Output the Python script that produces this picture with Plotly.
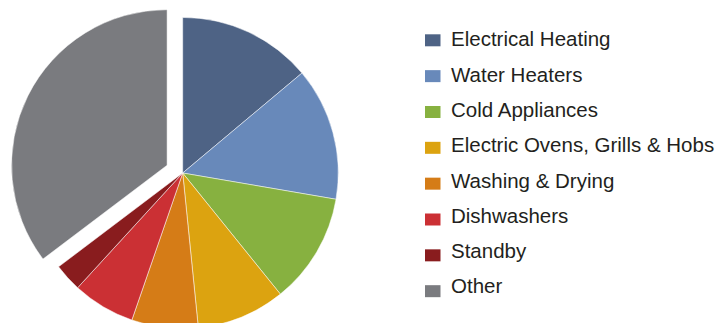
import plotly.graph_objects as go

# Household electricity use by end use (share of total, %)
categories = [
    "Electrical Heating",
    "Water Heaters",
    "Cold Appliances",
    "Electric Ovens, Grills & Hobs",
    "Washing & Drying",
    "Dishwashers",
    "Standby",
    "Other",
]
shares = [13.9, 13.8, 11.5, 9.2, 6.9, 6.5, 2.9, 35.3]
colors = ["#4E6385", "#6889BA", "#87B140", "#DCA310",
          "#D57C17", "#CB3034", "#891C1E", "#7A7B7F"]
pulled = ["Other"]

W, H = 716, 346
PIE_CX = 182.7          # pie centre, px from left

fig = go.Figure(
    go.Pie(
        labels=categories,
        values=shares,
        marker=dict(colors=colors, line=dict(color="white", width=0.5)),
        pull=[0.112 if c in pulled else 0 for c in categories],
        sort=False,
        direction="clockwise",
        rotation=0,
        textinfo="none",
        showlegend=False,
        domain=dict(x=[0, 2 * PIE_CX / W], y=[0, 1]),
    )
)

# Legend: colour swatch + label per category
SW_X0, SW_W, SW_H = 425, 15.5, 12
SW_Y0, SW_STEP = 40.3, 35.84
TXT_X, TXT_Y0, TXT_STEP = 449, 38.8, 35.3
shapes, annotations = [], []
for i, (name, col) in enumerate(zip(categories, colors)):
    ys = SW_Y0 + i * SW_STEP
    shapes.append(dict(
        type="rect", xref="paper", yref="paper",
        x0=SW_X0 / W, x1=(SW_X0 + SW_W) / W,
        y0=1 - (ys + SW_H / 2) / H, y1=1 - (ys - SW_H / 2) / H,
        fillcolor=col, line=dict(width=0),
    ))
    yt = TXT_Y0 + i * TXT_STEP
    annotations.append(dict(
        text=name, xref="paper", yref="paper",
        x=TXT_X / W, y=1 - yt / H,
        xanchor="left", yanchor="middle", showarrow=False,
        font=dict(family="Liberation Sans, Arial, sans-serif", size=20.5, color="#231F20"),
    ))

fig.update_layout(
    width=W, height=H,
    margin=dict(l=0, r=0, t=0, b=0),
    paper_bgcolor="white",
    plot_bgcolor="white",
    shapes=shapes,
    annotations=annotations,
)

fig.write_html(
    "out.html",
    post_script="document.documentElement.style.overflow='hidden';"
                "document.body.style.overflow='hidden';",
)
